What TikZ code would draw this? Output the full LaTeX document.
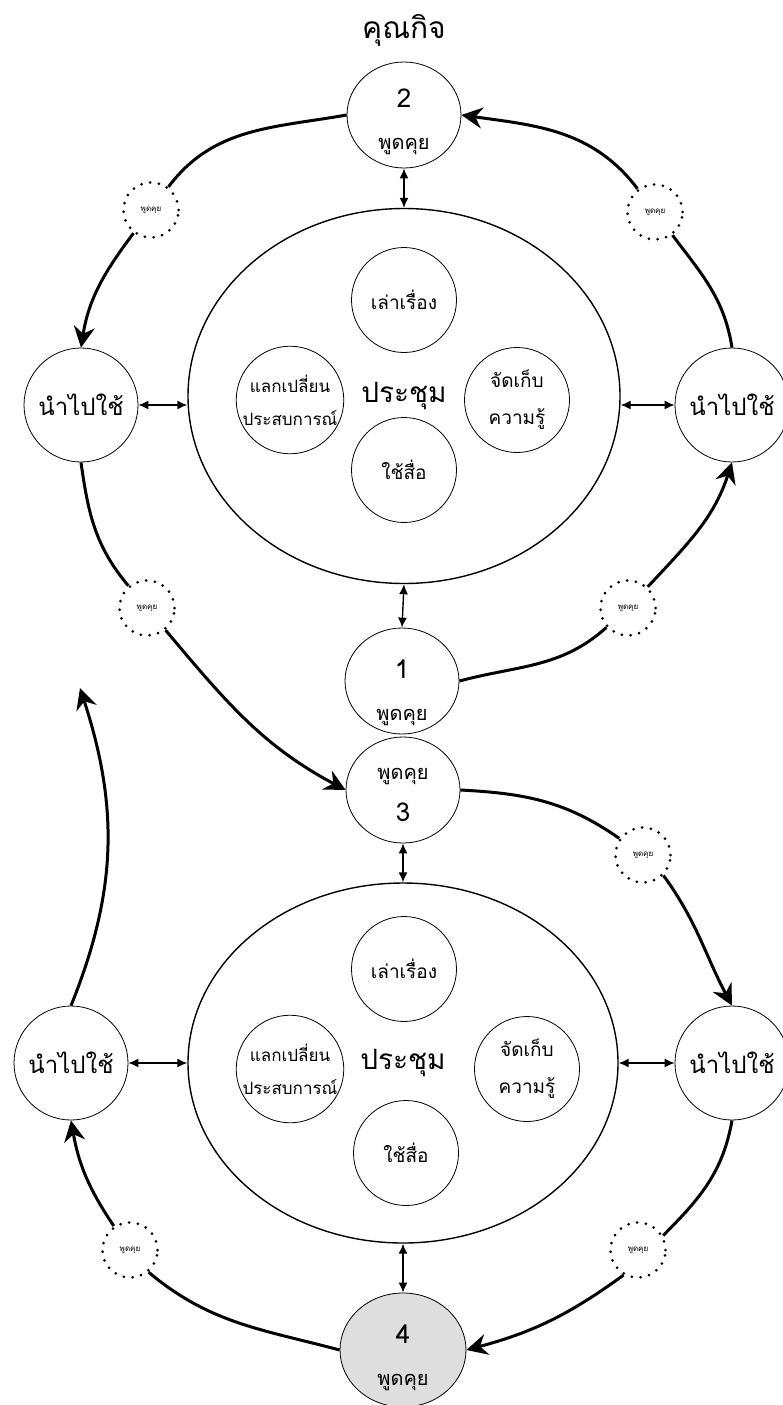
\documentclass[tikz,border=0pt]{standalone}
\usepackage{fontspec}
\newfontfamily\thai[Script=Thai]{Loma}
\usetikzlibrary{shapes.geometric,arrows.meta}

\begin{document}
\begin{tikzpicture}[x=1pt, y=1pt,
  talk/.style={ellipse, draw, line width=0.8pt, minimum width=114pt, minimum height=106pt, inner sep=0pt},
  talktext/.style={align=center, font=\thai\fontsize{20}{42}\selectfont},
  apply/.style={circle, draw, line width=0.8pt, minimum size=114pt, inner sep=0pt,
    font=\thai\fontsize{24}{28}\selectfont},
  meeting/.style={ellipse, draw, line width=1.4pt, inner sep=0pt,
    font=\thai\fontsize{28}{32}\selectfont},
  topic/.style={circle, draw, line width=0.8pt, minimum size=105pt, inner sep=0pt,
    align=center, font=\thai\fontsize{19}{37}\selectfont},
  chat/.style={circle, draw, dash pattern=on 0pt off 8.8pt, line cap=round, line width=3pt,
    minimum size=55pt, inner sep=0pt, font=\thai\fontsize{8}{8}\selectfont},
  link/.style={line width=3pt},
  flow/.style={line width=3pt, -{Stealth[length=21pt,width=21pt,inset=7pt]}},
  dbl/.style={line width=1.4pt, {Latex[length=10pt,width=9pt]}-{Latex[length=10pt,width=9pt]}}
]
\useasboundingbox (0,0) rectangle (782,-1405);
\newcommand\num[1]{{\fontsize{26}{30}\selectfont #1}}

\node[font=\thai\fontsize{30}{34}\selectfont] (title) at (404,-30) {คุณกิจ};

% first meeting
\node[talk] (c2) at (404,-115) {};
\node[talktext] (c2t) at (404,-122) {\num{2}\\พูดคุย};
\node[meeting, minimum width=432pt, minimum height=375pt] (big1) at (404,-396) {ประชุม};
\node[topic] (tell1) at (404,-300) {เล่าเรื่อง};
\node[topic, font=\thai\fontsize{17}{33}\selectfont] (swap1) at (290,-400) {แลกเปลี่ยน\\ประสบการณ์};
\node[topic] (keep1) at (517,-400) {จัดเก็บ\\ความรู้};
\node[topic] (media1) at (404,-470) {ใช้สื่อ};
\node[apply] (nl1) at (81,-405) {นำไปใช้};
\node[apply] (nr1) at (732,-405) {นำไปใช้};
\node[talk] (c1) at (402,-681) {};
\node[talktext] (c1t) at (402,-693) {\num{1}\\พูดคุย};

% second meeting
\node[talk] (c3) at (403,-790) {};
\node[talktext] (c3t) at (403,-795) {พูดคุย\\\num{3}};
\node[meeting, minimum width=430pt, minimum height=360pt] (big2) at (403,-1063) {ประชุม};
\node[topic] (tell2) at (404,-969) {เล่าเรื่อง};
\node[topic, font=\thai\fontsize{17}{33}\selectfont] (swap2) at (290,-1069) {แลกเปลี่ยน\\ประสบการณ์};
\node[topic] (keep2) at (527,-1069) {จัดเก็บ\\ความรู้};
\node[topic] (media2) at (406,-1153) {ใช้สื่อ};
\node[apply] (nl2) at (71,-1063) {นำไปใช้};
\node[apply] (nr2) at (732,-1063) {นำไปใช้};
\node[talk, fill=black!13, minimum width=126pt, minimum height=114pt] (c4) at (403,-1350) {};
\node[talktext] (c4t) at (403,-1358) {\num{4}\\พูดคุย};

% small talks on the rings
\node[chat] (d1) at (151,-210) {พูดคุย};
\node[chat] (d2) at (655,-212) {พูดคุย};
\node[chat] (d3) at (147,-608) {พูดคุย};
\node[chat] (d4) at (628,-608) {พูดคุย};
\node[chat] (d5) at (643,-855) {พูดคุย};
\node[chat] (d6) at (638,-1250) {พูดคุย};
\node[chat] (d7) at (130,-1250) {พูดคุย};
\coordinate (back) at (80,-688);

% two-way links
\draw[dbl] (c2.south) -- (big1.north);
\draw[dbl] (big1.south) -- (c1.north);
\draw[dbl] (nl1.east) -- (nl1.east -| big1.west);
\draw[dbl] (nr1.west -| big1.east) -- (nr1.west);
\draw[dbl] (c3.south) -- (big2.north);
\draw[dbl] (big2.south) -- (c4.north);
\draw[dbl] (nl2.east) -- (big2.west);
\draw[dbl] (big2.east) -- (nr2.west);

% upper ring
\draw[link] (c2.west) to[out=190,in=53] (d1.53);
\draw[flow] (d1.233) to[out=233,in=81] (nl1.north);
\draw[link] (nr1.north) to[out=99,in=-53] (d2.-53);
\draw[flow] (d2.127) to[out=127,in=-8] (c2.east);
\draw[link] (c1.east) to[out=15,in=222] (d4.222);
\draw[flow] (d4.47) to[out=47,in=252] (nr1.south);
\draw[link] (nl1.south) to[out=-82,in=130] (d3.130);
\draw[flow] (d3.-50) to[out=-50,in=152] (c3.west);

% lower ring
\draw[link] (c3.east) to[out=-3,in=145] (d5.145);
\draw[flow] (d5.-45) to[out=-54,in=118] (nr2.north);
\draw[link] (nr2.south) to[out=-100,in=45] (d6.30);
\draw[flow] (d6.-120) to[out=216,in=15] (c4.east);
\draw[link] (c4.west) to[out=165,in=-40] (d7.-50);
\draw[flow] (d7.124) to[out=124,in=-80] (nl2.south);
\draw[flow] (nl2.north) to[out=68,in=-72] (back);
\end{tikzpicture}
\end{document}
